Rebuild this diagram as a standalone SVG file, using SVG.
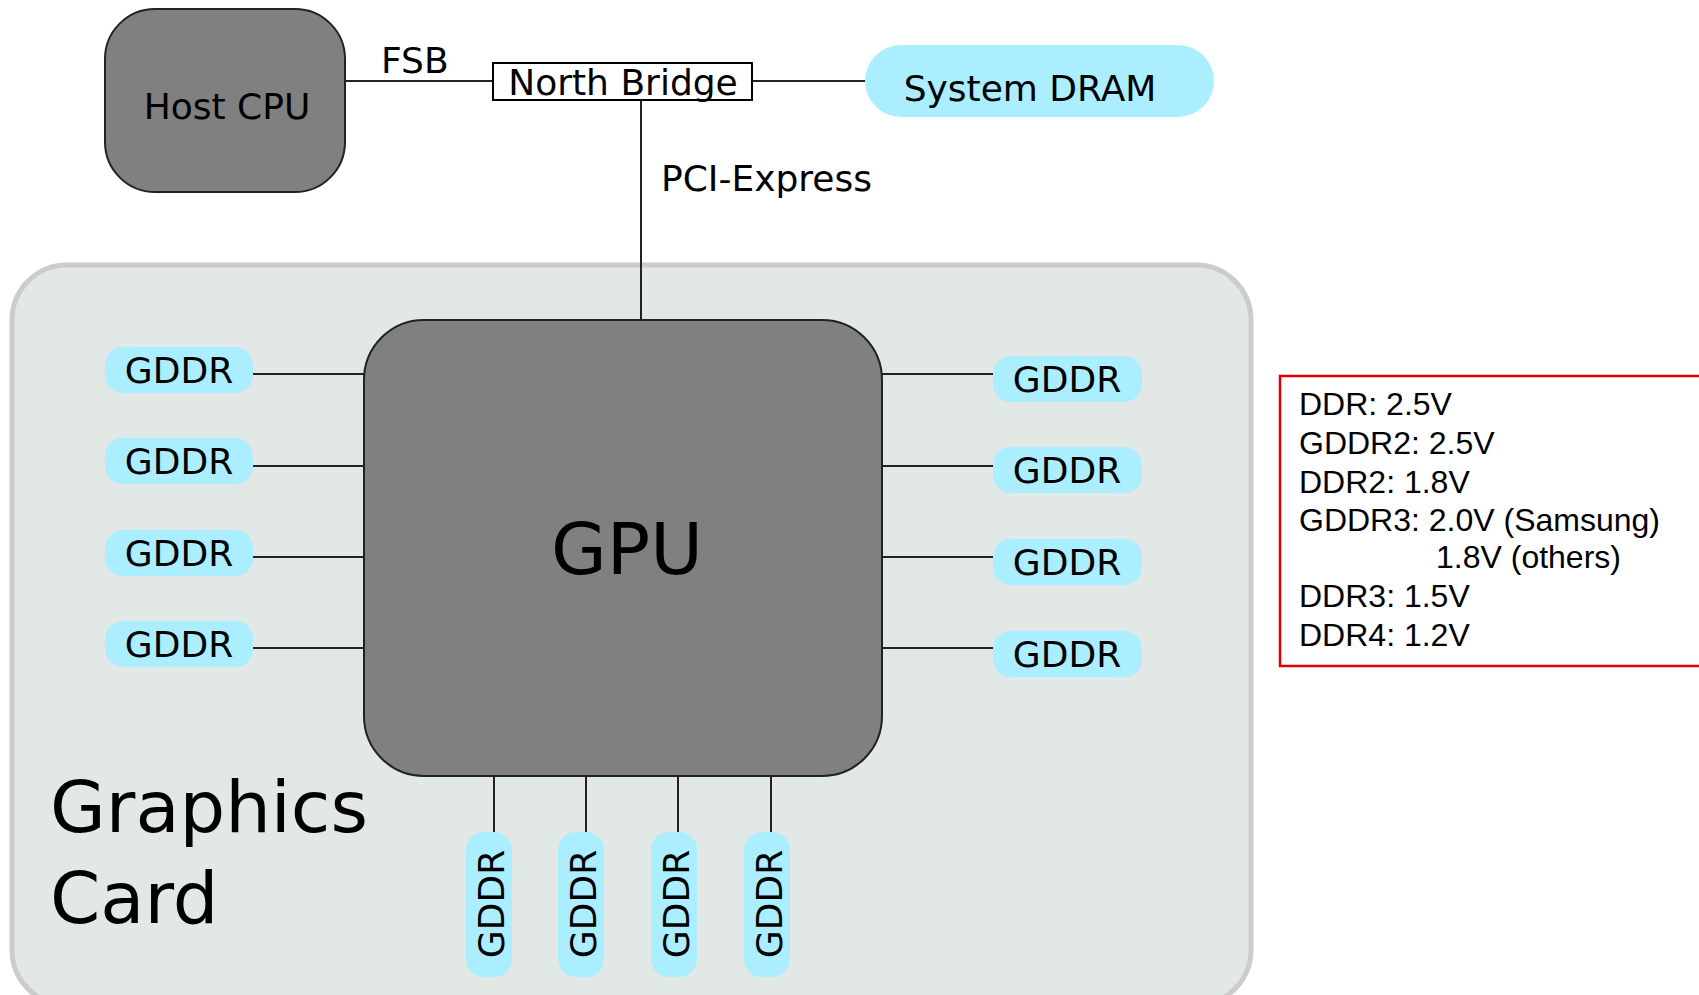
<svg xmlns="http://www.w3.org/2000/svg" width="1699" height="995" viewBox="0 0 1699 995">
  <style>
    .lbl { font-family: "DejaVu Sans", sans-serif; font-size: 36px; fill: #000; }
    .big { font-family: "DejaVu Sans", sans-serif; font-size: 72px; fill: #000; }
    .chip { fill: #808080; stroke: #222; stroke-width: 2; }
    .mem { fill: #aaeeff; }
    .wire { stroke: #222; stroke-width: 2; fill: none; }
    .note { font-family: "Liberation Sans", Arial, sans-serif; font-size: 32px; fill: #000; }
  </style>

  <rect width="1699" height="995" fill="#ffffff"/>

  <!-- board outline -->
  <g id="graphics-card">
    <rect x="12" y="265" width="1239" height="740" rx="55" ry="55" fill="#e2e8e5" stroke="#cccccc" stroke-width="5"/>
    <text class="big" x="50" y="832">Graphics</text>
    <text class="big" x="50" y="923">Card</text>
  </g>

  <!-- connectors -->
  <g id="connectors" class="wire">
    <line x1="345" y1="81" x2="493" y2="81"/>
    <line x1="752" y1="81" x2="865" y2="81"/>
    <line x1="641" y1="100" x2="641" y2="320"/>
    <line x1="253" y1="374" x2="364" y2="374"/>
    <line x1="253" y1="466" x2="364" y2="466"/>
    <line x1="253" y1="557" x2="364" y2="557"/>
    <line x1="253" y1="648" x2="364" y2="648"/>
    <line x1="882" y1="374" x2="993" y2="374"/>
    <line x1="882" y1="466" x2="993" y2="466"/>
    <line x1="882" y1="557" x2="993" y2="557"/>
    <line x1="882" y1="648" x2="993" y2="648"/>
    <line x1="494" y1="776" x2="494" y2="832"/>
    <line x1="586" y1="776" x2="586" y2="832"/>
    <line x1="678" y1="776" x2="678" y2="832"/>
    <line x1="771" y1="776" x2="771" y2="832"/>
  </g>
  <g id="bus-labels">
    <text class="lbl" x="381" y="73">FSB</text>
    <text class="lbl" x="661" y="191">PCI-Express</text>
  </g>

  <g id="host-cpu">
    <rect class="chip" x="105" y="9" width="240" height="183" rx="50" ry="50"/>
    <text class="lbl" x="227" y="119" text-anchor="middle">Host CPU</text>
  </g>

  <g id="north-bridge">
    <rect x="493" y="63" width="259" height="37" fill="#ffffff" stroke="#000" stroke-width="2"/>
    <text class="lbl" x="623" y="95" text-anchor="middle">North Bridge</text>
  </g>

  <g id="system-dram">
    <rect class="mem" x="865" y="45" width="349" height="72" rx="36" ry="36"/>
    <text class="lbl" x="1030" y="101" text-anchor="middle">System DRAM</text>
  </g>

  <g id="gpu">
    <rect class="chip" x="364" y="320" width="518" height="456" rx="60" ry="60"/>
    <text class="big" x="627" y="574" text-anchor="middle">GPU</text>
  </g>

  <!-- memory chips, left side -->
  <g id="gddr-l1"><rect class="mem" x="105" y="347" width="148" height="46" rx="18"/><text class="lbl" x="179" y="383" text-anchor="middle">GDDR</text></g>
  <g id="gddr-l2"><rect class="mem" x="105" y="438" width="148" height="46" rx="18"/><text class="lbl" x="179" y="474" text-anchor="middle">GDDR</text></g>
  <g id="gddr-l3"><rect class="mem" x="105" y="530" width="148" height="46" rx="18"/><text class="lbl" x="179" y="566" text-anchor="middle">GDDR</text></g>
  <g id="gddr-l4"><rect class="mem" x="105" y="621" width="148" height="46" rx="18"/><text class="lbl" x="179" y="657" text-anchor="middle">GDDR</text></g>

  <!-- memory chips, right side -->
  <g id="gddr-r1"><rect class="mem" x="993" y="356" width="149" height="46" rx="18"/><text class="lbl" x="1067" y="392" text-anchor="middle">GDDR</text></g>
  <g id="gddr-r2"><rect class="mem" x="993" y="447" width="149" height="46" rx="18"/><text class="lbl" x="1067" y="483" text-anchor="middle">GDDR</text></g>
  <g id="gddr-r3"><rect class="mem" x="993" y="539" width="149" height="46" rx="18"/><text class="lbl" x="1067" y="575" text-anchor="middle">GDDR</text></g>
  <g id="gddr-r4"><rect class="mem" x="993" y="631" width="149" height="46" rx="18"/><text class="lbl" x="1067" y="667" text-anchor="middle">GDDR</text></g>

  <!-- memory chips, bottom row (vertical) -->
  <g id="gddr-b1"><rect class="mem" x="466" y="832" width="46" height="145" rx="18"/><text class="lbl" transform="translate(504 904) rotate(-90)" text-anchor="middle">GDDR</text></g>
  <g id="gddr-b2"><rect class="mem" x="558" y="832" width="46" height="145" rx="18"/><text class="lbl" transform="translate(596 904) rotate(-90)" text-anchor="middle">GDDR</text></g>
  <g id="gddr-b3"><rect class="mem" x="651" y="832" width="46" height="145" rx="18"/><text class="lbl" transform="translate(689 904) rotate(-90)" text-anchor="middle">GDDR</text></g>
  <g id="gddr-b4"><rect class="mem" x="744" y="832" width="46" height="145" rx="18"/><text class="lbl" transform="translate(782 904) rotate(-90)" text-anchor="middle">GDDR</text></g>

  <!-- supply voltage notes -->
  <g id="voltage-notes">
    <rect x="1280" y="376" width="500" height="290" fill="#ffffff" stroke="#e00000" stroke-width="2.5"/>
    <text class="note" x="1299" y="415">DDR: 2.5V</text>
    <text class="note" x="1299" y="454">GDDR2: 2.5V</text>
    <text class="note" x="1299" y="493">DDR2: 1.8V</text>
    <text class="note" x="1299" y="531">GDDR3: 2.0V (Samsung)</text>
    <text class="note" x="1436" y="568">1.8V (others)</text>
    <text class="note" x="1299" y="607">DDR3: 1.5V</text>
    <text class="note" x="1299" y="646">DDR4: 1.2V</text>
  </g>
</svg>
